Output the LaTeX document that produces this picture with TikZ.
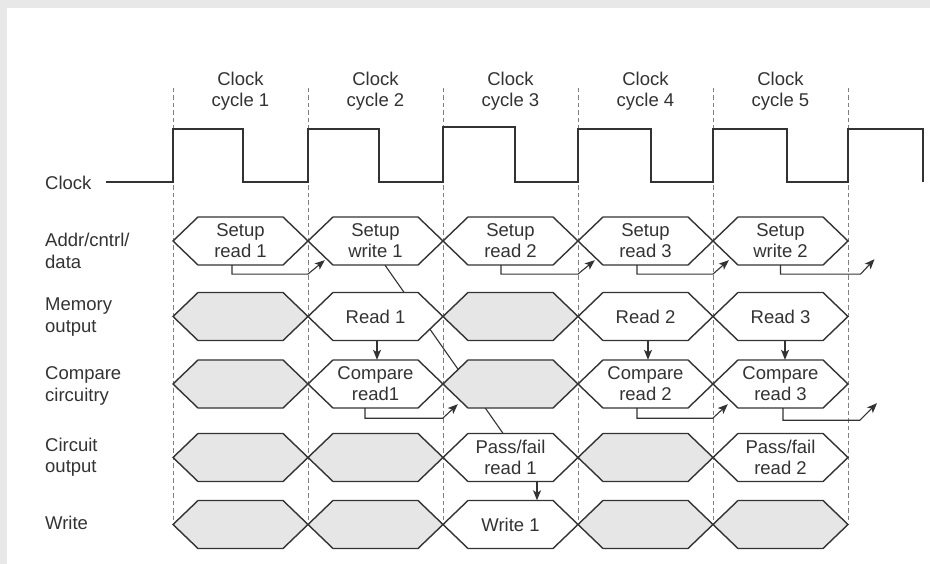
\documentclass[tikz,border=0pt]{standalone}
\usepackage{fontspec}
\setmainfont{Liberation Sans}
\usetikzlibrary{arrows.meta}
\definecolor{bord}{HTML}{E8E8E8}
\definecolor{hexfill}{HTML}{E6E6E6}
\definecolor{ink}{HTML}{333333}
\definecolor{txt}{HTML}{333333}
\pgfdeclarelayer{back}
\pgfdeclarelayer{mid}
\pgfsetlayers{back,mid,main}
\newcommand{\hexsig}[5]{%
  \draw[hexline, fill=#4] (#2-67.5,#3) -- (#2-42.5,#3-24) -- (#2+42.5,#3-24) -- (#2+67.5,#3)
     -- (#2+42.5,#3+24) -- (#2-42.5,#3+24) -- cycle;
  \node[hextext] (#1) at (#2,#3) {#5};
}
\tikzset{
  hexline/.style={draw=ink, line width=1.4pt, line join=miter},
  hextext/.style={minimum width=135pt, minimum height=48pt, inner sep=0pt, align=center,
    text=txt, font=\fontsize{18.5}{21}\selectfont},
  rowlabel/.style={anchor=west, align=left, inner sep=0pt, text=txt, font=\fontsize{18.5}{21.5}\selectfont},
  colhead/.style={align=center, inner sep=0pt, text=txt, font=\fontsize{18.5}{21}\selectfont},
  guide/.style={draw=black!50, line width=1pt, dash pattern=on 4.5pt off 3pt},
  wave/.style={draw=ink, line width=1.4pt, line join=miter},
  arr/.style={draw=ink, line width=1.1pt, -{Stealth[length=10pt,width=8pt,inset=2.5pt]}},
  plainline/.style={draw=ink, line width=1.1pt}
}
\begin{document}
\begin{tikzpicture}[x=1pt, y=-1pt]
\useasboundingbox (0,0) rectangle (930,564);
\begin{pgfonlayer}{back}
  \fill[white] (0,0) rectangle (930,564);
  \fill[bord] (0,0) rectangle (930,8);
  \fill[bord] (0,0) rectangle (7,564);
\end{pgfonlayer}

% column headers
\foreach \i/\c in {0/1,1/2,2/3,3/4,4/5}{
  \node[colhead] (head\c) at (240.5+135*\i, 91) {Clock\\cycle \c};
}
% guide lines
\begin{pgfonlayer}{mid}
\foreach \i in {0,...,5}{
  \draw[guide] (173+135*\i, 88) -- (173+135*\i, 523);
}
\end{pgfonlayer}

% row labels
\node[rowlabel] (lclk) at (45,183) {Clock};
\node[rowlabel] (ladr) at (45,251) {Addr/cntrl/\\data};
\node[rowlabel] (lmem) at (45,317) {Memory\\output};
\node[rowlabel] (lcmp) at (45,386) {Compare\\circuitry};
\node[rowlabel] (lcir) at (45,457) {Circuit\\output};
\node[rowlabel] (lwr) at (45,523) {Write};

% clock waveform
\draw[wave] (106,182) -- (173,182) -- (173,129) -- (243,129) -- (243,182) -- (308,182)
  -- (308,129) -- (379,129) -- (379,182) -- (443,182) -- (443,127) -- (515,127) -- (515,182)
  -- (578,182) -- (578,129) -- (651,129) -- (651,182) -- (713,182) -- (713,129) -- (787,129)
  -- (787,182) -- (848,182) -- (848,129) -- (923,129) -- (923,182);

% Addr/cntrl/data row
\hexsig{a1}{240.5}{241}{white}{Setup\\read 1}
\hexsig{a2}{375.5}{241}{white}{Setup\\write 1}
\hexsig{a3}{510.5}{241}{white}{Setup\\read 2}
\hexsig{a4}{645.5}{241}{white}{Setup\\read 3}
\hexsig{a5}{780.5}{241}{white}{Setup\\write 2}
% Memory output row
\hexsig{m1}{240.5}{316.5}{hexfill}{}
\hexsig{m2}{375.5}{316.5}{white}{Read 1}
\hexsig{m3}{510.5}{316.5}{hexfill}{}
\hexsig{m4}{645.5}{316.5}{white}{Read 2}
\hexsig{m5}{780.5}{316.5}{white}{Read 3}
% Compare circuitry row
\hexsig{c1}{240.5}{384}{hexfill}{}
\hexsig{c2}{375.5}{384}{white}{Compare\\read1}
\hexsig{c3}{510.5}{384}{hexfill}{}
\hexsig{c4}{645.5}{384}{white}{Compare\\read 2}
\hexsig{c5}{780.5}{384}{white}{Compare\\read 3}
% Circuit output row
\hexsig{p1}{240.5}{457.5}{hexfill}{}
\hexsig{p2}{375.5}{457.5}{hexfill}{}
\hexsig{p3}{510.5}{457.5}{white}{Pass/fail\\read 1}
\hexsig{p4}{645.5}{457.5}{hexfill}{}
\hexsig{p5}{780.5}{457.5}{white}{Pass/fail\\read 2}
% Write row
\hexsig{w1}{240.5}{524.5}{hexfill}{}
\hexsig{w2}{375.5}{524.5}{hexfill}{}
\hexsig{w3}{510.5}{524.5}{white}{Write 1}
\hexsig{w4}{645.5}{524.5}{hexfill}{}
\hexsig{w5}{780.5}{524.5}{hexfill}{}

% long diagonal line (behind hexagons)
\begin{pgfonlayer}{mid}
  \draw[plainline] ([xshift=9.5pt]a2.south) -- ([xshift=-7.5pt]p3.north);
\end{pgfonlayer}

% setup -> next cycle arrows
\draw[arr] ([xshift=-8.5pt]a1.south) -- ++(0,9) coordinate (k1) -- (k1 -| a2.west) -- ++(17,-14);
\draw[arr] ([xshift=-9.5pt]a3.south) -- ++(0,9) coordinate (k3) -- (k3 -| a4.west) -- ++(17,-14);
\draw[arr] ([xshift=-8.5pt]a4.south) -- ++(0,9) coordinate (k4) -- (k4 -| a5.west) -- ++(16,-14);
\draw[arr] ([xshift=0pt]a5.south) -- ++(0,9) -- ++(80,0) -- ++(14,-15);

% memory -> compare
\draw[arr] ([xshift=1.5pt]m2.south) -- ([xshift=1.5pt]c2.north);
\draw[arr] ([xshift=2.5pt]m4.south) -- ([xshift=2.5pt]c4.north);
\draw[arr] ([xshift=4.5pt]m5.south) -- ([xshift=4.5pt]c5.north);

% compare -> next cycle arrows
\draw[arr] ([xshift=-10.5pt]c2.south) -- ++(0,10) coordinate (q2) -- (q2 -| c3.west) -- ++(15,-14);
\draw[arr] ([xshift=-8.5pt]c4.south) -- ++(0,10) coordinate (q4) -- (q4 -| c5.west) -- ++(15,-14);
\draw[arr] ([xshift=2.5pt]c5.south) -- ++(0,12) -- ++(77,0) -- ++(17,-17);

% pass/fail -> write
\draw[arr] ([xshift=26.5pt]p3.south) -- ([xshift=26.5pt]w3.north);
\end{tikzpicture}
\end{document}
